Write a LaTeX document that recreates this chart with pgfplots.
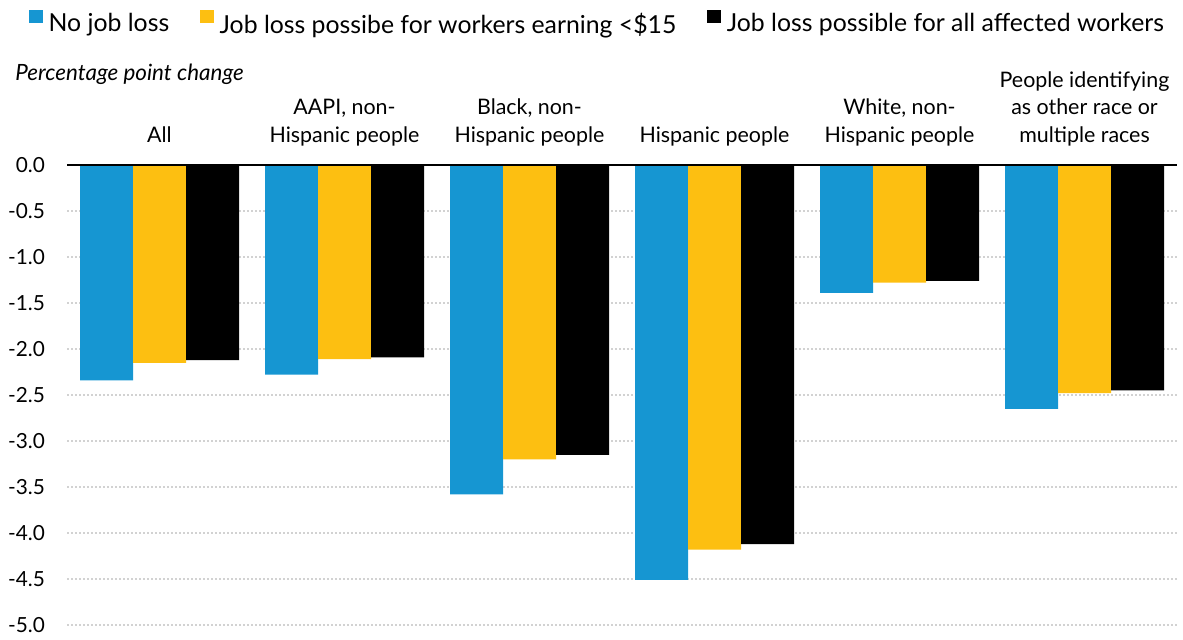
\documentclass[border=0pt]{standalone}
\usepackage{fontspec}
\setmainfont{Lato}
\usepackage{pgfplots}
\pgfplotsset{compat=1.18}
\definecolor{ublue}{HTML}{1696D2}
\definecolor{uyellow}{HTML}{FDBF11}
\definecolor{ugrid}{HTML}{D2D2D2}
\begin{document}
\begin{tikzpicture}
\begin{axis}[
  width=555pt, height=230pt, scale only axis,
  xmin=-0.5, xmax=5.5, ymin=-5, ymax=0,
  ybar, bar width=26.5pt,
  axis line style={draw=none},
  major tick length=0pt,
  xtick={0,1,2,3,4,5},
  xticklabel pos=upper,
  xticklabels={All,{AAPI, non-\\Hispanic people},{Black, non-\\Hispanic people},Hispanic people,{White, non-\\Hispanic people},{People identifying\\as other race or\\multiple races}},
  xticklabel style={align=center, anchor=south, font=\fontsize{10.7}{13.75}\selectfont, text depth=0.25em, inner sep=0pt, yshift=8.6pt},
  ytick={-5,-4.5,...,0},
  yticklabel style={font=\fontsize{10.4}{12}\selectfont, xshift=-7.5pt, /pgf/number format/.cd, fixed, fixed zerofill, precision=1, assume math mode=true},
  ymajorgrids,
  grid style={ugrid, line width=1pt, dash pattern=on 1pt off 1pt},
  clip=false,
  legend columns=3,
  legend style={draw=none, fill=none, font=\fontsize{12.4}{14}\selectfont, at={(axis description cs:-0.034,1.337)}, anchor=north west, inner sep=0pt, outer sep=0pt,
    nodes={inner sep=0pt},
    /tikz/every odd column/.append style={column sep=3pt},
    /tikz/every even column/.append style={column sep=15.5pt}},
  legend image code/.code={\path (0pt,0pt); \fill[#1] (0pt,0.5pt) rectangle (6.7pt,7.2pt);},
]
\addplot[fill=ublue, draw=none, bar shift=-26.5pt] coordinates {(0,-2.34) (1,-2.28) (2,-3.58) (3,-4.51) (4,-1.39) (5,-2.65)};
\addlegendentry{No job loss}
\addplot[fill=uyellow, draw=none, bar shift=0pt] coordinates {(0,-2.15) (1,-2.11) (2,-3.20) (3,-4.18) (4,-1.28) (5,-2.48)};
\addlegendentry{Job loss possibe for workers earning <\$15}
\addplot[fill=black, draw=none, bar shift=26.5pt] coordinates {(0,-2.12) (1,-2.09) (2,-3.15) (3,-4.12) (4,-1.26) (5,-2.45)};
\addlegendentry{Job loss possible for all affected workers}
\addplot[sharp plot, black, line width=1.4pt, forget plot, no marks] coordinates {(-0.5,0) (5.5,0)};
\node[anchor=base west, inner sep=0pt, font=\itshape\fontsize{11.2}{12}\selectfont] at ([xshift=-26pt, yshift=42.3pt]rel axis cs:0,1) {Percentage point change};
\path (rel axis cs:-0.06036,-0.01957) rectangle (rel axis cs:1.00541,1.3587);
\end{axis}
\end{tikzpicture}
\end{document}
